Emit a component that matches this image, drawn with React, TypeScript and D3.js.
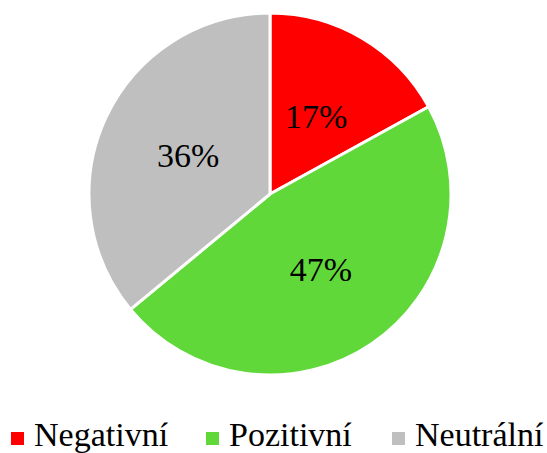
import * as d3 from "d3";
import React, { useEffect, useRef } from "react";

const categories = ["Negativní", "Pozitivní", "Neutrální"];
const values = [17, 47, 36];
const colors = ["#ff0000", "#60d83a", "#bfbfbf"];

const serif = "Liberation Serif, Times New Roman, Times, serif";

export default function App() {
  const svgRef = useRef<SVGSVGElement>(null);

  useEffect(() => {
    const svg = d3.select(svgRef.current);
    svg.selectAll("*").remove();

    const height = 453;
    const cx = 270;
    const cy = 194;
    const radius = 181;

    const data = categories.map((c, i) => ({ name: c, value: values[i], color: colors[i] }));

    const pie = d3.pie<any>().value(d => d.value).sort(null);
    const arc = d3.arc<any>().innerRadius(0).outerRadius(radius);

    const g = svg.append("g").attr("transform", `translate(${cx},${cy})`);

    const slices = g.selectAll("g.slice")
      .data(pie(data))
      .enter()
      .append("g")
      .attr("class", "slice");

    slices.append("path")
      .attr("d", arc)
      .attr("fill", d => d.data.color)
      .attr("stroke", "#fff")
      .attr("stroke-width", 3)
      .attr("stroke-linejoin", "round");

    // Percent labels at the slice centroids
    slices.append("text")
      .attr("transform", d => `translate(${arc.centroid(d)})`)
      .attr("text-anchor", "middle")
      .attr("dy", "0.35em")
      .attr("font-family", serif)
      .attr("font-size", 34)
      .attr("fill", "#000")
      .text(d => `${d.data.value}%`);

    // Legend
    const legendX = [11, 206, 392];
    const legend = svg.append("g").attr("transform", `translate(0,${height - 7})`);
    data.forEach((d, i) => {
      const item = legend.append("g").attr("transform", `translate(${legendX[i]},0)`);
      item.append("rect")
        .attr("x", 0)
        .attr("y", -14)
        .attr("width", 13)
        .attr("height", 13)
        .attr("fill", d.color);
      item.append("text")
        .attr("x", 23)
        .attr("y", 0)
        .attr("font-family", serif)
        .attr("font-size", 34)
        .attr("fill", "#000")
        .text(d.name);
    });
  }, []);

  return (
    <svg
      ref={svgRef}
      width={547}
      height={453}
      style={{ position: "absolute", left: 0, top: 0, background: "#fff" }}
    ></svg>
  );
}
